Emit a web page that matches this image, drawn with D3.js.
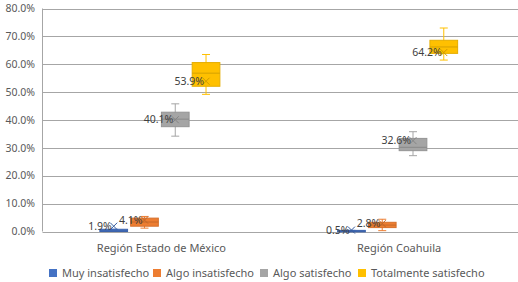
<!DOCTYPE html>
<html>
  <head>
    <meta charset="UTF-8" />
    <script src="https://cdn.jsdelivr.net/npm/d3@7"></script>
    <style>
      body { margin: 0; background: #fff; }
      svg { font-family: 'Noto Sans', sans-serif; }
    </style>
  </head>
  <body>
    <svg></svg>
    <script>
      // datos
      const regions = ['Región Estado de México', 'Región Coahuila'];
      const series = ['Muy insatisfecho', 'Algo insatisfecho', 'Algo satisfecho', 'Totalmente satisfecho'];
      const colors = ['#4472c4', '#ed7d31', '#a5a5a5', '#ffc000'];
      // [mín, q1, mediana, q3, máx] por serie, una fila por región
      const muyInsat = [[0, 0, 0.2, 0.8, 0.8], [0, 0, 0.1, 0.4, 0.4]];
      const algoInsat = [[1.2, 1.9, 3.4, 4.8, 5.4], [0.3, 1.4, 2.3, 3.3, 4.4]];
      const algoSat = [[34.2, 37.6, 40.3, 42.8, 45.8], [27.2, 29.0, 30.2, 33.4, 35.8]];
      const totalSat = [[49.2, 52.1, 56.8, 60.6, 63.5], [61.5, 63.9, 66.2, 68.6, 73.0]];
      const means = [[1.9, 4.1, 40.1, 53.9], [0.5, 2.8, 32.6, 64.2]];
      const yTicks = [0, 10, 20, 30, 40, 50, 60, 70, 80];

      const width = 518;
      const height = 282;
      const margin = { top: 8.5, right: 0, bottom: 50.5, left: 42.5 };

      const svg = d3.select('svg').attr('width', width).attr('height', height);

      const y = d3.scaleLinear().domain([0, 80]).range([height - margin.bottom, margin.top]);
      const x0 = d3.scaleBand().domain(regions).range([margin.left, width - margin.right]);
      const x1 = d3.scaleBand().domain(series).range([0, 120]).paddingInner(0.1);

      // rejilla
      svg.append('g')
        .selectAll('line')
        .data(yTicks)
        .join('line')
        .attr('x1', margin.left)
        .attr('x2', width)
        .attr('y1', (d) => Math.round(y(d)) + 0.5)
        .attr('y2', (d) => Math.round(y(d)) + 0.5)
        .attr('stroke', '#a6a6a6');
      svg.append('line')
        .attr('x1', margin.left).attr('x2', margin.left)
        .attr('y1', y(80)).attr('y2', y(0))
        .attr('stroke', '#a6a6a6');

      // eje y
      svg.append('g')
        .selectAll('text')
        .data(yTicks)
        .join('text')
        .attr('x', 35)
        .attr('y', (d) => y(d))
        .attr('dy', '0.35em')
        .attr('text-anchor', 'end')
        .attr('font-size', 10.5)
        .attr('fill', '#595959')
        .text((d) => d3.format('.1f')(d) + '%');

      // eje x
      svg.append('g')
        .selectAll('text')
        .data(regions)
        .join('text')
        .attr('x', (d) => x0(d) + x0.bandwidth() / 2)
        .attr('y', 252)
        .attr('text-anchor', 'middle')
        .attr('font-size', 11)
        .attr('fill', '#595959')
        .text((d) => d);

      // cajas
      const stats = [muyInsat, algoInsat, algoSat, totalSat];
      const boxes = [];
      regions.forEach((r, ri) => {
        series.forEach((s, si) => {
          const [mn, q1, md, q3, mx] = stats[si][ri];
          boxes.push({ r, s, si, mn, q1, md, q3, mx, mean: means[ri][si] });
        });
      });

      const g = svg.append('g');
      const bx = (d) => x0(d.r) + x0.bandwidth() / 2 - 61.5 + x1(d.s);
      const bw = x1.bandwidth();

      const box = g.selectAll('g').data(boxes).join('g');
      box.append('line')
        .attr('x1', (d) => bx(d) + bw / 2).attr('x2', (d) => bx(d) + bw / 2)
        .attr('y1', (d) => y(d.mx)).attr('y2', (d) => y(d.mn))
        .attr('stroke', (d) => colors[d.si]);
      box.append('line')
        .attr('x1', (d) => bx(d) + bw / 2 - 4).attr('x2', (d) => bx(d) + bw / 2 + 4)
        .attr('y1', (d) => y(d.mx)).attr('y2', (d) => y(d.mx))
        .attr('stroke', (d) => colors[d.si]);
      box.append('line')
        .attr('x1', (d) => bx(d) + bw / 2 - 4).attr('x2', (d) => bx(d) + bw / 2 + 4)
        .attr('y1', (d) => y(d.mn)).attr('y2', (d) => y(d.mn))
        .attr('stroke', (d) => colors[d.si]);
      box.append('rect')
        .attr('x', (d) => bx(d))
        .attr('y', (d) => y(d.q3))
        .attr('width', bw)
        .attr('height', (d) => Math.max(1.5, y(d.q1) - y(d.q3)))
        .attr('fill', (d) => colors[d.si])
        .attr('stroke', (d) => d3.color(colors[d.si]).darker(0.3));
      box.append('line')
        .attr('x1', (d) => bx(d)).attr('x2', (d) => bx(d) + bw)
        .attr('y1', (d) => y(d.md)).attr('y2', (d) => y(d.md))
        .attr('stroke', (d) => d3.color(colors[d.si]).darker(0.5));
      // marcador de media (x)
      box.append('path')
        .attr('d', (d) => {
          const cx = bx(d) + bw / 2, cy = y(d.mean), s = 3.5;
          return `M${cx - s},${cy - s}L${cx + s},${cy + s}M${cx - s},${cy + s}L${cx + s},${cy - s}`;
        })
        .attr('stroke', (d) => d3.color(colors[d.si]).darker(0.6))
        .attr('fill', 'none');
      box.append('text')
        .attr('x', (d) => bx(d) + bw / 2 - 2)
        .attr('y', (d) => y(d.mean))
        .attr('dy', '0.35em')
        .attr('text-anchor', 'end')
        .attr('font-size', 10.5)
        .attr('fill', '#404040')
        .text((d) => d3.format('.1f')(d.mean) + '%');

      // leyenda
      const legendX = [49, 153, 260, 358];
      const lg = svg.append('g')
        .selectAll('g')
        .data(series)
        .join('g')
        .attr('transform', (d, i) => `translate(${legendX[i]},269)`);
      lg.append('rect')
        .attr('width', 8).attr('height', 8)
        .attr('fill', (d, i) => colors[i]);
      lg.append('text')
        .attr('x', 13)
        .attr('y', 4)
        .attr('dy', '0.35em')
        .attr('font-size', 11)
        .attr('fill', '#595959')
        .text((d) => d);
    </script>
  </body>
</html>
